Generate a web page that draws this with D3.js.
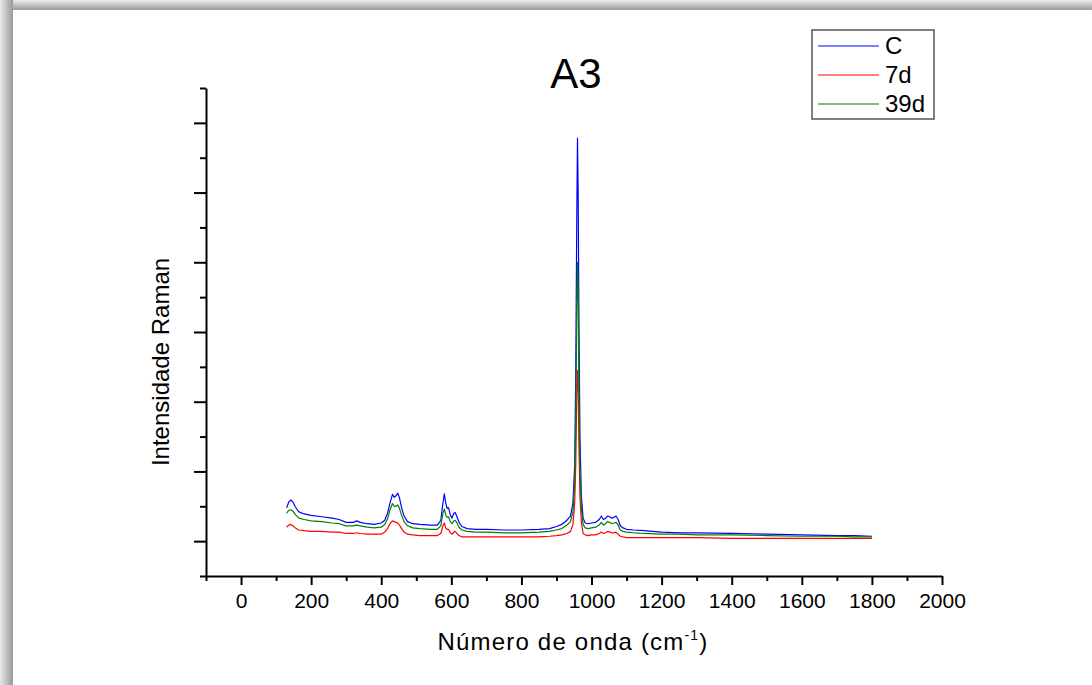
<!DOCTYPE html>
<html>
<head>
<meta charset="utf-8">
<script src="https://cdn.jsdelivr.net/npm/d3@7"></script>
<style>
  body { margin: 0; background: #fff; }
  svg { display: block; font-family: "Liberation Sans", Arial, sans-serif; }
</style>
</head>
<body>
<svg id="chart" width="1092" height="685"></svg>
<script>
// wavenumber (cm-1) and intensities
var wavenumbers = [130,136,142,148,155,165,180,200,230,260,280,300,320,330,340,360,380,400,410,418,425,432,437,442,447,452,458,465,475,490,510,540,560,570,576,580,584,588,592,597,602,607,611,616,622,630,645,670,700,750,800,850,880,900,915,930,940,947,952,955,958,960,962,964,967,971,976,982,990,1000,1012,1022,1028,1034,1040,1046,1052,1058,1064,1070,1076,1082,1090,1100,1120,1150,1200,1250,1300,1400,1500,1600,1700,1750,1800];

var serieC = [0.48,0.56,0.59,0.56,0.49,0.42,0.39,0.37,0.35,0.33,0.31,0.27,0.27,0.29,0.27,0.25,0.24,0.26,0.30,0.40,0.55,0.67,0.63,0.65,0.69,0.62,0.48,0.36,0.28,0.25,0.24,0.23,0.23,0.30,0.55,0.68,0.55,0.47,0.48,0.38,0.33,0.40,0.41,0.35,0.27,0.21,0.18,0.17,0.17,0.16,0.16,0.17,0.18,0.21,0.24,0.30,0.36,0.55,1.1,2.4,4.7,5.78,4.9,3.2,1.5,0.65,0.33,0.26,0.25,0.26,0.27,0.31,0.36,0.31,0.33,0.36,0.35,0.33,0.34,0.36,0.31,0.22,0.19,0.17,0.16,0.15,0.13,0.12,0.12,0.11,0.10,0.09,0.08,0.08,0.07];

var serie7d = [0.20,0.23,0.24,0.22,0.19,0.16,0.15,0.14,0.14,0.13,0.13,0.11,0.11,0.12,0.11,0.10,0.10,0.10,0.13,0.18,0.25,0.29,0.28,0.27,0.26,0.23,0.18,0.13,0.10,0.09,0.08,0.08,0.08,0.11,0.22,0.26,0.19,0.17,0.17,0.12,0.10,0.13,0.14,0.11,0.08,0.06,0.06,0.06,0.06,0.06,0.06,0.06,0.07,0.08,0.09,0.11,0.14,0.24,0.55,1.1,2.1,2.45,2.2,1.4,0.65,0.27,0.11,0.09,0.08,0.09,0.09,0.11,0.13,0.11,0.12,0.14,0.13,0.12,0.12,0.13,0.10,0.07,0.06,0.05,0.05,0.05,0.05,0.05,0.05,0.04,0.04,0.04,0.04,0.04,0.04];

var serie39d = [0.40,0.44,0.45,0.43,0.38,0.33,0.31,0.29,0.28,0.26,0.25,0.22,0.22,0.23,0.22,0.20,0.19,0.20,0.24,0.32,0.45,0.54,0.50,0.50,0.52,0.47,0.37,0.28,0.22,0.19,0.18,0.17,0.17,0.22,0.40,0.46,0.38,0.34,0.35,0.28,0.25,0.29,0.30,0.26,0.20,0.16,0.14,0.13,0.13,0.12,0.12,0.13,0.14,0.16,0.18,0.23,0.28,0.42,0.85,1.7,3.3,4.0,3.5,2.2,1.05,0.47,0.24,0.19,0.18,0.19,0.20,0.23,0.27,0.23,0.25,0.28,0.27,0.25,0.26,0.27,0.23,0.16,0.14,0.13,0.12,0.11,0.10,0.10,0.09,0.09,0.08,0.07,0.07,0.06,0.06];

var seriesNames = ["C", "7d", "39d"];
var seriesColors = ["#0000ff", "#ff0000", "#008000"];
var xMajorTicks = [0,200,400,600,800,1000,1200,1400,1600,1800,2000];

var svg = d3.select("#chart");

// grey shadow frame on the top and left edge
var defs = svg.append("defs");
var gTop = defs.append("linearGradient").attr("id", "shTop").attr("x1", 0).attr("y1", 0).attr("x2", 0).attr("y2", 1);
gTop.append("stop").attr("offset", "0%").attr("stop-color", "#ececec");
gTop.append("stop").attr("offset", "100%").attr("stop-color", "#9a9a9a");
var gLeft = defs.append("linearGradient").attr("id", "shLeft").attr("x1", 0).attr("y1", 0).attr("x2", 1).attr("y2", 0);
gLeft.append("stop").attr("offset", "0%").attr("stop-color", "#e8e8e8");
gLeft.append("stop").attr("offset", "100%").attr("stop-color", "#999999");
svg.append("rect").attr("x", 0).attr("y", 0).attr("width", 1092).attr("height", 10).attr("fill", "url(#shTop)");
svg.append("rect").attr("x", 0).attr("y", 0).attr("width", 13).attr("height", 685).attr("fill", "url(#shLeft)");

var xScale = d3.scaleLinear().domain([-100, 2000]).range([206, 942]);
var yScale = d3.scaleLinear().domain([-0.5, 6.5]).range([576, 88]);

// spectra
var series = [serieC, serie7d, serie39d];
var line = d3.line()
    .x(function(d){ return xScale(d[0]); })
    .y(function(d){ return yScale(d[1]); });

for (var s = 0; s < series.length; s++) {
    var pts = [];
    for (var i = 0; i < wavenumbers.length; i++) {
        pts.push([wavenumbers[i], series[s][i]]);
    }
    svg.append("path")
        .attr("d", line(pts))
        .attr("fill", "none")
        .attr("stroke", seriesColors[s])
        .attr("stroke-width", 1.2)
        .attr("stroke-linejoin", "round");
}

// x axis: minor ticks then major ticks with labels
var xMinor = d3.range(-100, 2000, 200);
svg.append("g")
    .attr("transform", "translate(0,576)")
    .call(d3.axisBottom(xScale).tickValues(xMinor).tickSize(5).tickFormat(""))
    .call(function(g){ g.select(".domain").remove(); });
var xAxis = svg.append("g")
    .attr("transform", "translate(0,576)")
    .call(d3.axisBottom(xScale).tickValues(xMajorTicks).tickSize(9).tickPadding(8)
        .tickSizeOuter(0).tickFormat(d3.format("d")));
xAxis.selectAll("text").attr("font-size", 21).attr("font-family", "Liberation Sans, Arial, sans-serif").attr("fill", "#000");

// y axis: no labels
var yMinor = d3.range(-0.5, 7, 1);
var yMajor = d3.range(0, 7, 1);
svg.append("g")
    .attr("transform", "translate(206,0)")
    .call(d3.axisLeft(yScale).tickValues(yMinor).tickSize(6).tickFormat(""))
    .call(function(g){ g.select(".domain").remove(); });
svg.append("g")
    .attr("transform", "translate(206,0)")
    .call(d3.axisLeft(yScale).tickValues(yMajor).tickSize(12).tickFormat("").tickSizeOuter(0));

svg.selectAll(".domain, .tick line").attr("stroke", "#000").attr("stroke-width", 2);

// titles
svg.append("text").attr("x", 576).attr("y", 88).attr("text-anchor", "middle")
    .attr("font-size", 42).text("A3");

var xl = svg.append("text").attr("x", 573).attr("y", 650).attr("text-anchor", "middle")
    .attr("font-size", 24).attr("letter-spacing", 1.2);
xl.append("tspan").text("Número de onda (cm");
xl.append("tspan").attr("font-size", 14).attr("dy", -10).text("-1");
xl.append("tspan").attr("dy", 10).text(")");

svg.append("text")
    .attr("transform", "translate(169,362) rotate(-90)")
    .attr("text-anchor", "middle").attr("font-size", 24)
    .text("Intensidade Raman");

// legend
var legend = svg.append("g");
legend.append("rect").attr("x", 812).attr("y", 30).attr("width", 122).attr("height", 89)
    .attr("fill", "#fff").attr("stroke", "#555").attr("stroke-width", 1.5);
for (var k = 0; k < seriesNames.length; k++) {
    var ly = 46 + k * 29;
    legend.append("line").attr("x1", 818).attr("x2", 879).attr("y1", ly).attr("y2", ly)
        .attr("stroke", seriesColors[k]).attr("stroke-width", 1.2);
    legend.append("text").attr("x", 885).attr("y", ly + 8).attr("font-size", 24).text(seriesNames[k]);
}
</script>
</body>
</html>
